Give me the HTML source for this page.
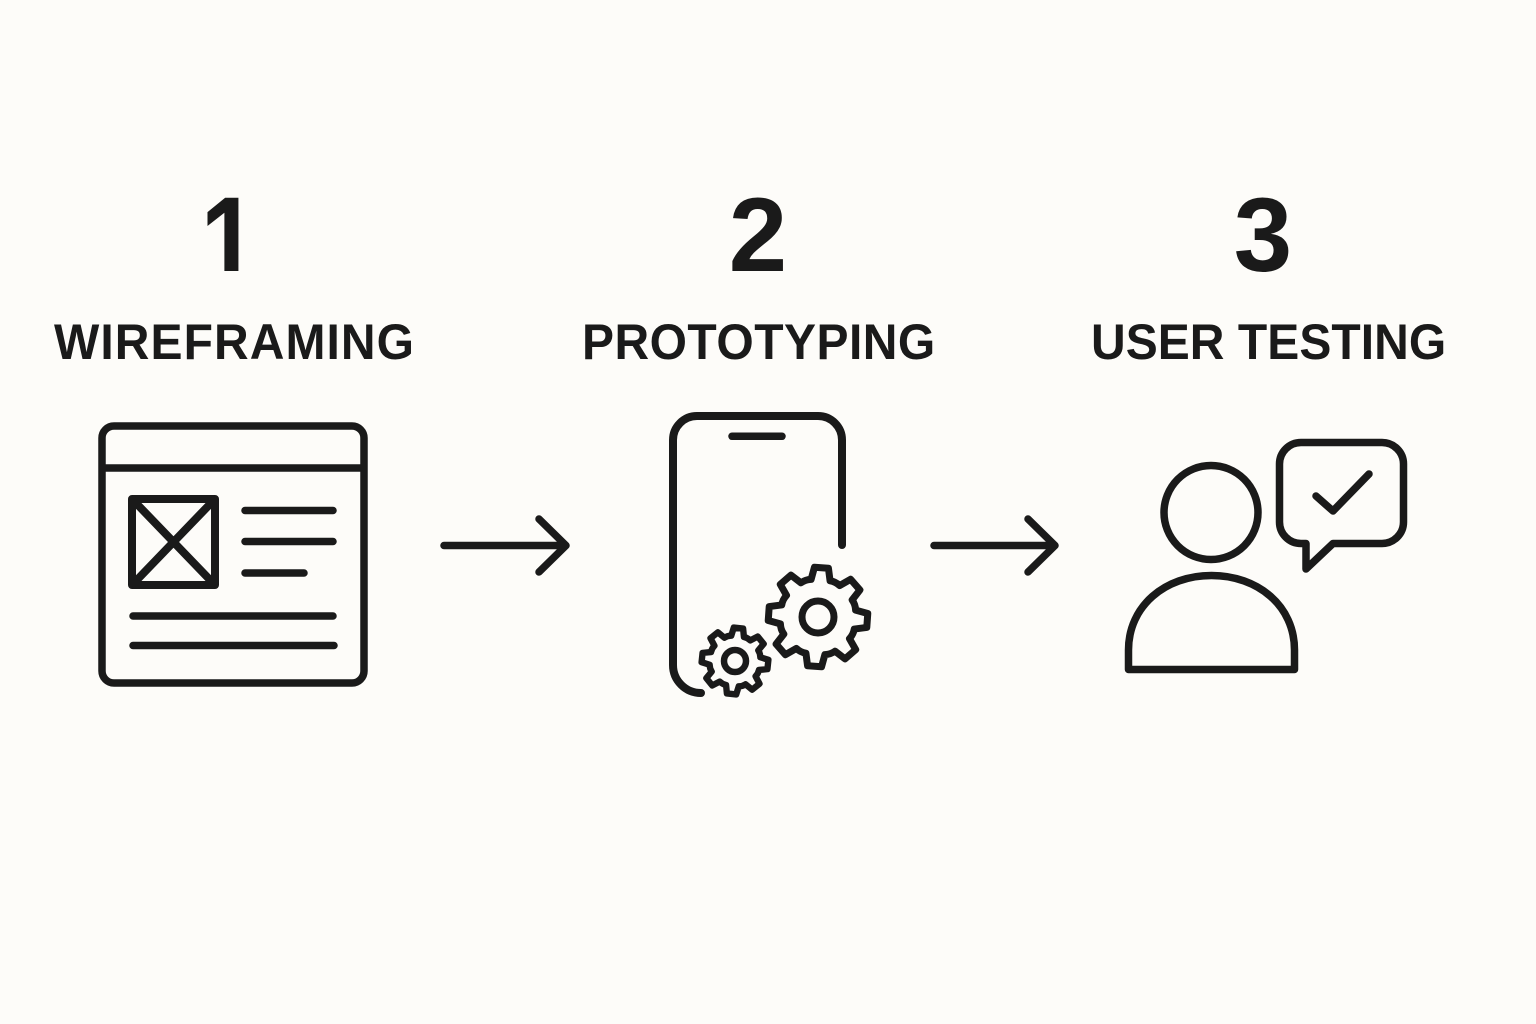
<!DOCTYPE html>
<html lang="en">
<head>
<meta charset="utf-8">
<title>Wireframing, Prototyping, User Testing</title>
<style>
html,body{margin:0;padding:0;background:#fdfcf9;}
svg{display:block;}
text{font-family:"Liberation Sans",Arial,sans-serif;font-weight:700;fill:#1a1a1a;}
.s{fill:none;stroke:#1a1a1a;stroke-width:7.5;stroke-linecap:round;stroke-linejoin:round;}
</style>
</head>
<body>
<svg width="1536" height="1024" viewBox="0 0 1536 1024" xmlns="http://www.w3.org/2000/svg">
<defs>
<path id="gear" d="M37-9.5L49.4-7V7L37 9.5Q36.5 15 32.9 19.4L39.9 29.9L29.9 39.9L19.4 32.9Q15 36.5 9.5 37L7 49.4H-7L-9.5 37Q-15 36.5-19.4 32.9L-29.9 39.9L-39.9 29.9L-32.9 19.4Q-36.5 15-37 9.5L-49.4 7V-7L-37-9.5Q-36.5-15-32.9-19.4L-39.9-29.9L-29.9-39.9L-19.4-32.9Q-15-36.5-9.5-37L-7-49.4H7L9.5-37Q15-36.5 19.4-32.9L29.9-39.9L39.9-29.9L32.9-19.4Q36.5-15 37-9.5Z"/>
<clipPath id="oneClip"><rect x="190" y="180" width="70" height="91"/></clipPath>
</defs>
<rect width="1536" height="1024" fill="#fdfcf9"/>

<g clip-path="url(#oneClip)">
<text transform="translate(200.5 286) scale(.8 1)" font-size="128">1</text>
</g>
<text x="758" y="271" font-size="105" text-anchor="middle">2</text>
<text x="1263" y="271" font-size="105" text-anchor="middle">3</text>

<text transform="translate(54 359) scale(.96 1)" font-size="50" textLength="375" lengthAdjust="spacing">WIREFRAMING</text>
<text transform="translate(582 359) scale(.96 1)" font-size="50" textLength="368" lengthAdjust="spacing">PROTOTYPING</text>
<text transform="translate(1091 359) scale(.96 1)" font-size="50" textLength="370" lengthAdjust="spacing">USER TESTING</text>

<!-- Wireframe icon -->
<g class="s">
<rect x="102" y="426" width="262" height="257" rx="12"/>
<path d="M102 468H364" stroke-linecap="butt"/>
<rect x="132" y="499" width="83" height="86" stroke-width="8"/>
<path d="M134 501L213 583M213 501L134 583" stroke-width="8"/>
<path d="M245 510.5H333M245 541.5H333M245 573H304M133 616H333M133 645.5H334"/>
</g>

<!-- Arrow 1 -->
<path class="s" d="M444 545.5H566M539 519L566 545.5L539 572"/>

<!-- Phone icon -->
<g class="s">
<path d="M842 545V440A24 24 0 0 0 818 416H697A24 24 0 0 0 673 440V665A28 28 0 0 0 701 693" stroke-width="8"/>
<path d="M732 436.3H782"/>
<use href="#gear" transform="translate(818 617) rotate(4)" style="stroke-width:7"/>
<circle cx="818" cy="617" r="16" stroke-width="7"/>
<use href="#gear" transform="translate(735 661) rotate(6) scale(.67)" style="stroke-width:9.5"/>
<circle cx="735" cy="661" r="11" stroke-width="6.5"/>
</g>

<!-- Arrow 2 -->
<path class="s" d="M934 545.5H1055M1028 519L1055 545.5L1028 572"/>

<!-- User icon -->
<g class="s">
<circle cx="1211" cy="512.5" r="47"/>
<path d="M1128.5 669.5V650C1128.5 606 1165 575.5 1211.5 575.5C1258 575.5 1294.5 606 1294.5 650V669.5Z"/>
<path d="M1301 442.5H1382A21.5 21.5 0 0 1 1403.5 464V522A21.5 21.5 0 0 1 1382 543.5H1333L1306 569V543.5H1301A21.5 21.5 0 0 1 1279.5 522V464A21.5 21.5 0 0 1 1301 442.5Z"/>
<path d="M1316 496L1333 511L1369 474"/>
</g>
</svg>
</body>
</html>
